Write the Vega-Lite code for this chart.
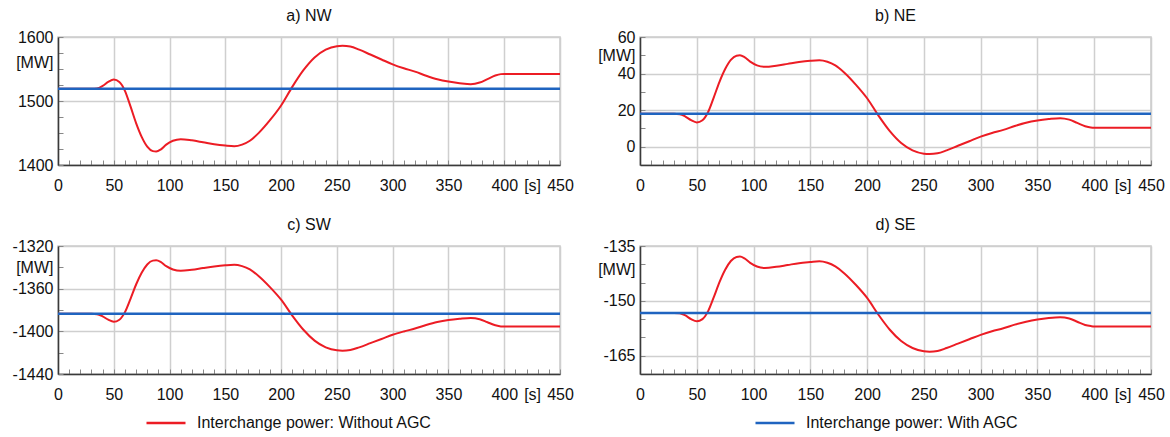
{
"$schema": "https://vega.github.io/schema/vega-lite/v6.json",
"padding": {"left": 11, "top": 7, "right": 4, "bottom": 0},
"columns": 2,
"bounds": "flush",
"spacing": {"row": 81, "column": 80},
"datasets": {
"nw": [
{"t":0,"MW":1519,"series":"Without AGC"},{"t":30,"MW":1519,"series":"Without AGC"},{"t":35,"MW":1519.6,"series":"Without AGC"},{"t":40,"MW":1523.6,"series":"Without AGC"},{"t":45,"MW":1529.7,"series":"Without AGC"},{"t":50,"MW":1533.4,"series":"Without AGC"},{"t":55,"MW":1529.7,"series":"Without AGC"},{"t":60,"MW":1515.9,"series":"Without AGC"},{"t":65,"MW":1491.5,"series":"Without AGC"},{"t":70,"MW":1465.5,"series":"Without AGC"},{"t":75,"MW":1444,"series":"Without AGC"},{"t":80,"MW":1428.7,"series":"Without AGC"},{"t":85,"MW":1421.7,"series":"Without AGC"},{"t":88,"MW":1421.1,"series":"Without AGC"},{"t":92,"MW":1424.1,"series":"Without AGC"},{"t":97,"MW":1431.8,"series":"Without AGC"},{"t":103,"MW":1437.9,"series":"Without AGC"},{"t":110,"MW":1440.4,"series":"Without AGC"},{"t":120,"MW":1438.5,"series":"Without AGC"},{"t":130,"MW":1435.5,"series":"Without AGC"},{"t":140,"MW":1432.4,"series":"Without AGC"},{"t":150,"MW":1430.3,"series":"Without AGC"},{"t":158,"MW":1429.3,"series":"Without AGC"},{"t":165,"MW":1431.8,"series":"Without AGC"},{"t":172,"MW":1437.9,"series":"Without AGC"},{"t":180,"MW":1450.2,"series":"Without AGC"},{"t":190,"MW":1470,"series":"Without AGC"},{"t":200,"MW":1493,"series":"Without AGC"},{"t":210,"MW":1522.1,"series":"Without AGC"},{"t":220,"MW":1548.1,"series":"Without AGC"},{"t":230,"MW":1568,"series":"Without AGC"},{"t":240,"MW":1580.2,"series":"Without AGC"},{"t":250,"MW":1585.7,"series":"Without AGC"},{"t":255,"MW":1586.3,"series":"Without AGC"},{"t":262,"MW":1585.1,"series":"Without AGC"},{"t":270,"MW":1580.2,"series":"Without AGC"},{"t":280,"MW":1572.6,"series":"Without AGC"},{"t":290,"MW":1564.9,"series":"Without AGC"},{"t":300,"MW":1557.3,"series":"Without AGC"},{"t":310,"MW":1551.1,"series":"Without AGC"},{"t":320,"MW":1545.9,"series":"Without AGC"},{"t":330,"MW":1539.5,"series":"Without AGC"},{"t":340,"MW":1534,"series":"Without AGC"},{"t":350,"MW":1530.3,"series":"Without AGC"},{"t":360,"MW":1527.9,"series":"Without AGC"},{"t":370,"MW":1526.3,"series":"Without AGC"},{"t":378,"MW":1528.8,"series":"Without AGC"},{"t":385,"MW":1534.3,"series":"Without AGC"},{"t":392,"MW":1539.8,"series":"Without AGC"},{"t":397,"MW":1542,"series":"Without AGC"},{"t":400,"MW":1542.3,"series":"Without AGC"},{"t":450,"MW":1542.3,"series":"Without AGC"},
{"t":0,"MW":1519,"series":"With AGC"},{"t":450,"MW":1519,"series":"With AGC"}
],
"ne": [
{"t":0,"MW":18,"series":"Without AGC"},{"t":30,"MW":18,"series":"Without AGC"},{"t":35,"MW":17.8,"series":"Without AGC"},{"t":40,"MW":16.5,"series":"Without AGC"},{"t":45,"MW":14.5,"series":"Without AGC"},{"t":50,"MW":13.3,"series":"Without AGC"},{"t":55,"MW":14.5,"series":"Without AGC"},{"t":60,"MW":19,"series":"Without AGC"},{"t":65,"MW":27,"series":"Without AGC"},{"t":70,"MW":35.5,"series":"Without AGC"},{"t":75,"MW":42.5,"series":"Without AGC"},{"t":80,"MW":47.5,"series":"Without AGC"},{"t":85,"MW":49.8,"series":"Without AGC"},{"t":88,"MW":50,"series":"Without AGC"},{"t":92,"MW":49,"series":"Without AGC"},{"t":97,"MW":46.5,"series":"Without AGC"},{"t":103,"MW":44.5,"series":"Without AGC"},{"t":110,"MW":43.7,"series":"Without AGC"},{"t":120,"MW":44.3,"series":"Without AGC"},{"t":130,"MW":45.3,"series":"Without AGC"},{"t":140,"MW":46.3,"series":"Without AGC"},{"t":150,"MW":47,"series":"Without AGC"},{"t":158,"MW":47.3,"series":"Without AGC"},{"t":165,"MW":46.5,"series":"Without AGC"},{"t":172,"MW":44.5,"series":"Without AGC"},{"t":180,"MW":40.5,"series":"Without AGC"},{"t":190,"MW":34,"series":"Without AGC"},{"t":200,"MW":26.5,"series":"Without AGC"},{"t":210,"MW":17,"series":"Without AGC"},{"t":220,"MW":8.5,"series":"Without AGC"},{"t":230,"MW":2,"series":"Without AGC"},{"t":240,"MW":-2,"series":"Without AGC"},{"t":250,"MW":-3.8,"series":"Without AGC"},{"t":255,"MW":-4,"series":"Without AGC"},{"t":262,"MW":-3.6,"series":"Without AGC"},{"t":270,"MW":-2,"series":"Without AGC"},{"t":280,"MW":0.5,"series":"Without AGC"},{"t":290,"MW":3,"series":"Without AGC"},{"t":300,"MW":5.5,"series":"Without AGC"},{"t":310,"MW":7.5,"series":"Without AGC"},{"t":320,"MW":9.2,"series":"Without AGC"},{"t":330,"MW":11.3,"series":"Without AGC"},{"t":340,"MW":13.1,"series":"Without AGC"},{"t":350,"MW":14.3,"series":"Without AGC"},{"t":360,"MW":15.1,"series":"Without AGC"},{"t":370,"MW":15.6,"series":"Without AGC"},{"t":378,"MW":14.8,"series":"Without AGC"},{"t":385,"MW":13,"series":"Without AGC"},{"t":392,"MW":11.2,"series":"Without AGC"},{"t":397,"MW":10.5,"series":"Without AGC"},{"t":400,"MW":10.4,"series":"Without AGC"},{"t":450,"MW":10.4,"series":"Without AGC"},
{"t":0,"MW":18,"series":"With AGC"},{"t":450,"MW":18,"series":"With AGC"}
],
"sw": [
{"t":0,"MW":-1383.6,"series":"Without AGC"},{"t":30,"MW":-1383.6,"series":"Without AGC"},{"t":35,"MW":-1383.9,"series":"Without AGC"},{"t":40,"MW":-1386,"series":"Without AGC"},{"t":45,"MW":-1389.1,"series":"Without AGC"},{"t":50,"MW":-1391,"series":"Without AGC"},{"t":55,"MW":-1389.1,"series":"Without AGC"},{"t":60,"MW":-1382,"series":"Without AGC"},{"t":65,"MW":-1369.5,"series":"Without AGC"},{"t":70,"MW":-1356.1,"series":"Without AGC"},{"t":75,"MW":-1345.1,"series":"Without AGC"},{"t":80,"MW":-1337.3,"series":"Without AGC"},{"t":85,"MW":-1333.7,"series":"Without AGC"},{"t":88,"MW":-1333.4,"series":"Without AGC"},{"t":92,"MW":-1334.9,"series":"Without AGC"},{"t":97,"MW":-1338.9,"series":"Without AGC"},{"t":103,"MW":-1342,"series":"Without AGC"},{"t":110,"MW":-1343.3,"series":"Without AGC"},{"t":120,"MW":-1342.3,"series":"Without AGC"},{"t":130,"MW":-1340.7,"series":"Without AGC"},{"t":140,"MW":-1339.2,"series":"Without AGC"},{"t":150,"MW":-1338.1,"series":"Without AGC"},{"t":158,"MW":-1337.6,"series":"Without AGC"},{"t":165,"MW":-1338.9,"series":"Without AGC"},{"t":172,"MW":-1342,"series":"Without AGC"},{"t":180,"MW":-1348.3,"series":"Without AGC"},{"t":190,"MW":-1358.5,"series":"Without AGC"},{"t":200,"MW":-1370.3,"series":"Without AGC"},{"t":210,"MW":-1385.2,"series":"Without AGC"},{"t":220,"MW":-1398.5,"series":"Without AGC"},{"t":230,"MW":-1408.7,"series":"Without AGC"},{"t":240,"MW":-1415,"series":"Without AGC"},{"t":250,"MW":-1417.8,"series":"Without AGC"},{"t":255,"MW":-1418.1,"series":"Without AGC"},{"t":262,"MW":-1417.5,"series":"Without AGC"},{"t":270,"MW":-1415,"series":"Without AGC"},{"t":280,"MW":-1411.1,"series":"Without AGC"},{"t":290,"MW":-1407.2,"series":"Without AGC"},{"t":300,"MW":-1403.2,"series":"Without AGC"},{"t":310,"MW":-1400.1,"series":"Without AGC"},{"t":320,"MW":-1397.4,"series":"Without AGC"},{"t":330,"MW":-1394.1,"series":"Without AGC"},{"t":340,"MW":-1391.3,"series":"Without AGC"},{"t":350,"MW":-1389.4,"series":"Without AGC"},{"t":360,"MW":-1388.2,"series":"Without AGC"},{"t":370,"MW":-1387.4,"series":"Without AGC"},{"t":378,"MW":-1388.6,"series":"Without AGC"},{"t":385,"MW":-1391.5,"series":"Without AGC"},{"t":392,"MW":-1394.3,"series":"Without AGC"},{"t":397,"MW":-1395.4,"series":"Without AGC"},{"t":400,"MW":-1395.5,"series":"Without AGC"},{"t":450,"MW":-1395.5,"series":"Without AGC"},
{"t":0,"MW":-1383.6,"series":"With AGC"},{"t":450,"MW":-1383.6,"series":"With AGC"}
],
"se": [
{"t":0,"MW":-153.3,"series":"Without AGC"},{"t":30,"MW":-153.3,"series":"Without AGC"},{"t":35,"MW":-153.4,"series":"Without AGC"},{"t":40,"MW":-154,"series":"Without AGC"},{"t":45,"MW":-155,"series":"Without AGC"},{"t":50,"MW":-155.6,"series":"Without AGC"},{"t":55,"MW":-155,"series":"Without AGC"},{"t":60,"MW":-152.8,"series":"Without AGC"},{"t":65,"MW":-149,"series":"Without AGC"},{"t":70,"MW":-144.9,"series":"Without AGC"},{"t":75,"MW":-141.5,"series":"Without AGC"},{"t":80,"MW":-139.1,"series":"Without AGC"},{"t":85,"MW":-138,"series":"Without AGC"},{"t":88,"MW":-137.9,"series":"Without AGC"},{"t":92,"MW":-138.4,"series":"Without AGC"},{"t":97,"MW":-139.6,"series":"Without AGC"},{"t":103,"MW":-140.6,"series":"Without AGC"},{"t":110,"MW":-141,"series":"Without AGC"},{"t":120,"MW":-140.7,"series":"Without AGC"},{"t":130,"MW":-140.2,"series":"Without AGC"},{"t":140,"MW":-139.7,"series":"Without AGC"},{"t":150,"MW":-139.4,"series":"Without AGC"},{"t":158,"MW":-139.2,"series":"Without AGC"},{"t":165,"MW":-139.6,"series":"Without AGC"},{"t":172,"MW":-140.6,"series":"Without AGC"},{"t":180,"MW":-142.5,"series":"Without AGC"},{"t":190,"MW":-145.6,"series":"Without AGC"},{"t":200,"MW":-149.2,"series":"Without AGC"},{"t":210,"MW":-153.8,"series":"Without AGC"},{"t":220,"MW":-157.9,"series":"Without AGC"},{"t":230,"MW":-161,"series":"Without AGC"},{"t":240,"MW":-162.9,"series":"Without AGC"},{"t":250,"MW":-163.8,"series":"Without AGC"},{"t":255,"MW":-163.9,"series":"Without AGC"},{"t":262,"MW":-163.7,"series":"Without AGC"},{"t":270,"MW":-162.9,"series":"Without AGC"},{"t":280,"MW":-161.7,"series":"Without AGC"},{"t":290,"MW":-160.5,"series":"Without AGC"},{"t":300,"MW":-159.3,"series":"Without AGC"},{"t":310,"MW":-158.3,"series":"Without AGC"},{"t":320,"MW":-157.5,"series":"Without AGC"},{"t":330,"MW":-156.5,"series":"Without AGC"},{"t":340,"MW":-155.7,"series":"Without AGC"},{"t":350,"MW":-155.1,"series":"Without AGC"},{"t":360,"MW":-154.7,"series":"Without AGC"},{"t":370,"MW":-154.5,"series":"Without AGC"},{"t":378,"MW":-154.8,"series":"Without AGC"},{"t":385,"MW":-155.7,"series":"Without AGC"},{"t":392,"MW":-156.6,"series":"Without AGC"},{"t":397,"MW":-156.9,"series":"Without AGC"},{"t":400,"MW":-157,"series":"Without AGC"},{"t":450,"MW":-157,"series":"Without AGC"},
{"t":0,"MW":-153.3,"series":"With AGC"},{"t":450,"MW":-153.3,"series":"With AGC"}
]
},
"concat": [
{
"title": "a) NW",
"width": 502, "height": 128,
"data": {"name": "nw"},
"encoding": {
"x": {"field": "t", "type": "quantitative", "scale": {"domain": [0, 450], "nice": false},
 "axis": {"title": null, "labelPadding": 17, "values": [0,10,20,30,40,50,60,70,80,90,100,110,120,130,140,150,160,170,180,190,200,210,220,230,240,250,260,270,280,290,300,310,320,330,340,350,360,370,380,390,400,410,420,425,430,440,450],
  "labelExpr": "datum.value == 425 ? '[s]' : (datum.value % 50 == 0 ? '' + datum.value : '')",
  "tickOpacity": {"condition": {"test": "datum.value == 425", "value": 0}, "value": 1},
  "gridOpacity": {"condition": {"test": "datum.value % 50 == 0", "value": 1}, "value": 0}}},
"y": {"field": "MW", "type": "quantitative", "scale": {"domain": [1400, 1600], "nice": false, "zero": false},
 "axis": {"title": null, "values": [1400,1425,1450,1475,1500,1525,1550,1560,1575,1600],
  "labelExpr": "datum.value == 1560 ? '[MW]' : (datum.value % 100 == 0 ? '' + datum.value : '')",
  "tickOpacity": {"condition": {"test": "datum.value == 1560", "value": 0}, "value": 1},
  "gridOpacity": {"condition": {"test": "datum.value % 100 == 0", "value": 1}, "value": 0}}},
"color": {"field": "series", "type": "nominal", "scale": {"domain": ["Without AGC", "With AGC"], "range": ["#ec1c24", "#1f64c0"]},
 "legend": {"orient": "none", "legendX": 87, "legendY": 365, "direction": "horizontal", "columns": 2, "columnPadding": 318, "title": null, "symbolType": "stroke", "symbolSize": 1521, "symbolStrokeWidth": 2.5, "labelFontSize": 16, "labelFont": "Liberation Sans", "labelColor": "#111", "labelExpr": "'Interchange power: ' + datum.label", "labelOffset": 10, "labelLimit": 400, "padding": 0}}
},
"layer": [
{"transform": [{"filter": "datum.series == 'Without AGC'"}], "mark": {"type": "line", "interpolate": "monotone", "strokeWidth": 2}},
{"transform": [{"filter": "datum.series == 'With AGC'"}], "mark": {"type": "line", "strokeWidth": 2.5}}
]
},
{
"title": "b) NE",
"width": 511, "height": 128,
"data": {"name": "ne"},
"encoding": {
"x": {"field": "t", "type": "quantitative", "scale": {"domain": [0, 450], "nice": false},
 "axis": {"title": null, "labelPadding": 17, "values": [0,10,20,30,40,50,60,70,80,90,100,110,120,130,140,150,160,170,180,190,200,210,220,230,240,250,260,270,280,290,300,310,320,330,340,350,360,370,380,390,400,410,420,425,430,440,450],
  "labelExpr": "datum.value == 425 ? '[s]' : (datum.value % 50 == 0 ? '' + datum.value : '')",
  "tickOpacity": {"condition": {"test": "datum.value == 425", "value": 0}, "value": 1},
  "gridOpacity": {"condition": {"test": "datum.value % 50 == 0", "value": 1}, "value": 0}}},
"y": {"field": "MW", "type": "quantitative", "scale": {"domain": [-10, 60], "nice": false, "zero": false},
 "axis": {"title": null, "values": [0,10,20,30,40,50,60],
  "labelExpr": "datum.value == 50 ? '[MW]' : (datum.value % 20 == 0 ? '' + datum.value : '')",
  "gridOpacity": {"condition": {"test": "datum.value % 20 == 0", "value": 1}, "value": 0}}},
"color": {"field": "series", "type": "nominal", "scale": {"domain": ["Without AGC", "With AGC"], "range": ["#ec1c24", "#1f64c0"]},
 "legend": {"orient": "none", "legendX": 87, "legendY": 365, "direction": "horizontal", "columns": 2, "columnPadding": 318, "title": null, "symbolType": "stroke", "symbolSize": 1521, "symbolStrokeWidth": 2.5, "labelFontSize": 16, "labelFont": "Liberation Sans", "labelColor": "#111", "labelExpr": "'Interchange power: ' + datum.label", "labelOffset": 10, "labelLimit": 400, "padding": 0}}
},
"layer": [
{"transform": [{"filter": "datum.series == 'Without AGC'"}], "mark": {"type": "line", "interpolate": "monotone", "strokeWidth": 2}},
{"transform": [{"filter": "datum.series == 'With AGC'"}], "mark": {"type": "line", "strokeWidth": 2.5}}
]
},
{
"title": "c) SW",
"width": 502, "height": 128,
"data": {"name": "sw"},
"encoding": {
"x": {"field": "t", "type": "quantitative", "scale": {"domain": [0, 450], "nice": false},
 "axis": {"title": null, "labelPadding": 17, "values": [0,10,20,30,40,50,60,70,80,90,100,110,120,130,140,150,160,170,180,190,200,210,220,230,240,250,260,270,280,290,300,310,320,330,340,350,360,370,380,390,400,410,420,425,430,440,450],
  "labelExpr": "datum.value == 425 ? '[s]' : (datum.value % 50 == 0 ? '' + datum.value : '')",
  "tickOpacity": {"condition": {"test": "datum.value == 425", "value": 0}, "value": 1},
  "gridOpacity": {"condition": {"test": "datum.value % 50 == 0", "value": 1}, "value": 0}}},
"y": {"field": "MW", "type": "quantitative", "scale": {"domain": [-1440, -1320], "nice": false, "zero": false},
 "axis": {"title": null, "values": [-1440,-1420,-1400,-1380,-1360,-1340,-1320],
  "labelExpr": "datum.value == -1340 ? '[MW]' : (datum.value % 40 == 0 ? '' + datum.value : '')",
  "gridOpacity": {"condition": {"test": "datum.value % 40 == 0", "value": 1}, "value": 0}}},
"color": {"field": "series", "type": "nominal", "scale": {"domain": ["Without AGC", "With AGC"], "range": ["#ec1c24", "#1f64c0"]},
 "legend": {"orient": "none", "legendX": 87, "legendY": 365, "direction": "horizontal", "columns": 2, "columnPadding": 318, "title": null, "symbolType": "stroke", "symbolSize": 1521, "symbolStrokeWidth": 2.5, "labelFontSize": 16, "labelFont": "Liberation Sans", "labelColor": "#111", "labelExpr": "'Interchange power: ' + datum.label", "labelOffset": 10, "labelLimit": 400, "padding": 0}}
},
"layer": [
{"transform": [{"filter": "datum.series == 'Without AGC'"}], "mark": {"type": "line", "interpolate": "monotone", "strokeWidth": 2}},
{"transform": [{"filter": "datum.series == 'With AGC'"}], "mark": {"type": "line", "strokeWidth": 2.5}}
]
},
{
"title": "d) SE",
"width": 511, "height": 128,
"data": {"name": "se"},
"encoding": {
"x": {"field": "t", "type": "quantitative", "scale": {"domain": [0, 450], "nice": false},
 "axis": {"title": null, "labelPadding": 17, "values": [0,10,20,30,40,50,60,70,80,90,100,110,120,130,140,150,160,170,180,190,200,210,220,230,240,250,260,270,280,290,300,310,320,330,340,350,360,370,380,390,400,410,420,425,430,440,450],
  "labelExpr": "datum.value == 425 ? '[s]' : (datum.value % 50 == 0 ? '' + datum.value : '')",
  "tickOpacity": {"condition": {"test": "datum.value == 425", "value": 0}, "value": 1},
  "gridOpacity": {"condition": {"test": "datum.value % 50 == 0", "value": 1}, "value": 0}}},
"y": {"field": "MW", "type": "quantitative", "scale": {"domain": [-170, -135], "nice": false, "zero": false},
 "axis": {"title": null, "values": [-165,-160,-155,-150,-145,-141.5,-140,-135],
  "labelExpr": "datum.value == -141.5 ? '[MW]' : ((datum.value + 135) % 15 == 0 ? '' + datum.value : '')",
  "tickOpacity": {"condition": {"test": "datum.value == -141.5", "value": 0}, "value": 1},
  "gridOpacity": {"condition": {"test": "(datum.value + 135) % 15 == 0", "value": 1}, "value": 0}}},
"color": {"field": "series", "type": "nominal", "scale": {"domain": ["Without AGC", "With AGC"], "range": ["#ec1c24", "#1f64c0"]},
 "legend": {"orient": "none", "legendX": 87, "legendY": 365, "direction": "horizontal", "columns": 2, "columnPadding": 318, "title": null, "symbolType": "stroke", "symbolSize": 1521, "symbolStrokeWidth": 2.5, "labelFontSize": 16, "labelFont": "Liberation Sans", "labelColor": "#111", "labelExpr": "'Interchange power: ' + datum.label", "labelOffset": 10, "labelLimit": 400, "padding": 0}}
},
"layer": [
{"transform": [{"filter": "datum.series == 'Without AGC'"}], "mark": {"type": "line", "interpolate": "monotone", "strokeWidth": 2}},
{"transform": [{"filter": "datum.series == 'With AGC'"}], "mark": {"type": "line", "strokeWidth": 2.5}}
]
}
],
"config": {
"font": "Liberation Sans",
"view": {"stroke": "#cccccc", "strokeWidth": 1.5},
"title": {"fontSize": 16, "fontWeight": "normal", "color": "#111", "offset": 5, "font": "Liberation Sans"},
"axis": {"labelFont": "Liberation Sans", "labelFontSize": 16, "labelColor": "#111", "labelFlush": false, "labelOverlap": false, "labelBound": false,
 "domainColor": "#3a3a3a", "domainWidth": 1.5, "tickColor": "#888888", "tickWidth": 1, "tickSize": -5, "labelPadding": 10,
 "gridColor": "#cfcfcf", "gridWidth": 1.5}
}
}
